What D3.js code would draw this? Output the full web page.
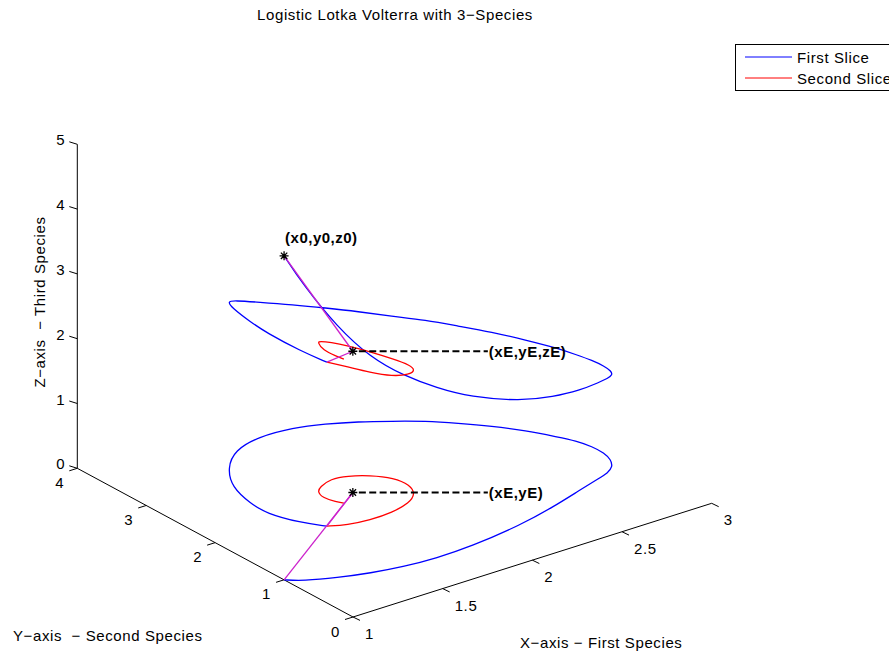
<!DOCTYPE html>
<html>
<head>
<meta charset="utf-8">
<script src="https://cdn.jsdelivr.net/npm/d3@7"></script>
<style>
body { margin: 0; background: #fff; }
text { font-family: "Liberation Sans", Arial, Helvetica, sans-serif; font-size: 15px; letter-spacing: 0.6px; white-space: pre; fill: #000; }
.bold { font-weight: bold; letter-spacing: 0.5px; }
</style>
</head>
<body>
<svg id="chart" width="889" height="653"></svg>
<script>
// trajectory, first slice (blue)
var slice1X = [1.00,1.06,1.20,1.35,1.50,1.68,1.87,2.19,2.42,2.62,2.77,2.83,2.89,2.93,2.95,2.95,2.93,2.89,2.82,2.73,2.63,2.53,2.41,2.29,2.16,2.02,1.84,1.67,1.53,1.42,1.38,1.37,1.43,1.50];
var slice1Y = [1.00,0.88,0.75,0.65,0.58,0.55,0.56,0.66,0.79,0.93,1.03,1.07,1.15,1.28,1.43,1.60,1.79,1.95,2.23,2.49,2.72,2.93,3.11,3.28,3.42,3.53,3.56,3.46,3.20,2.85,2.48,2.22,1.88,1.68];
var slice1Z = [5.00,4.57,3.87,3.32,2.96,2.62,2.31,1.91,1.70,1.54,1.48,1.46,1.42,1.37,1.34,1.33,1.33,1.37,1.40,1.45,1.50,1.56,1.62,1.70,1.79,1.90,2.08,2.31,2.57,2.77,2.80,2.79,2.65,2.53];

// second slice (red)
var slice2X = [1.50,1.58,1.69,1.82,1.94,2.02,2.06,2.05,1.98,1.90,1.82,1.73,1.69,1.67,1.69,1.71];
var slice2Y = [1.68,1.59,1.55,1.56,1.63,1.75,1.93,2.14,2.31,2.42,2.46,2.38,2.31,2.18,2.04,1.98];
var slice2Z = [2.53,2.44,2.28,2.10,1.98,1.91,1.85,1.83,1.91,2.01,2.11,2.25,2.31,2.28,2.25,2.22];

var startPt = [1, 1, 5];          // (x0,y0,z0)
var equilPt = [1.81, 2.11, 2.18]; // (xE,yE,zE)

var xTicks = [1, 1.5, 2, 2.5, 3];
var yTicks = [0, 1, 2, 3, 4];
var zTicks = [0, 1, 2, 3, 4, 5];

var legendNames = ["First Slice", "Second Slice"];
var sliceColors = ["#0000ff", "#ff0000"];

var svg = d3.select("#chart");

// oblique 3d view: fraction along each axis -> screen vectors
var fx = d3.scaleLinear().domain([1, 3]).range([0, 1]);
var fy = d3.scaleLinear().domain([0, 4]).range([0, 1]);
var fz = d3.scaleLinear().domain([0, 5]).range([0, 324]);
var origin = [353, 617];
var ex = [358.7, -113.7];
var ey = [-275.7, -148.7];

function proj(x, y, z) {
	return [origin[0] + fx(x) * ex[0] + fy(y) * ey[0],
	        origin[1] + fx(x) * ex[1] + fy(y) * ey[1] - fz(z)];
}

// axes
var axisG = svg.append("g").attr("stroke", "#000").attr("stroke-width", 1).attr("fill", "none");
var xa = proj(1, 0, 0), xb = proj(3, 0, 0);
axisG.append("line").attr("x1", xa[0]).attr("y1", xa[1]).attr("x2", xb[0]).attr("y2", xb[1]);
var ya = proj(1, 0, 0), yb = proj(1, 4, 0);
axisG.append("line").attr("x1", ya[0]).attr("y1", ya[1]).attr("x2", yb[0]).attr("y2", yb[1]);
var za = proj(1, 4, 0), zb = proj(1, 4, 5);
axisG.append("line").attr("x1", za[0]).attr("y1", za[1]).attr("x2", zb[0]).attr("y2", zb[1]);

xTicks.forEach(function(t) {
	var p = proj(t, 0, 0);
	axisG.append("line").attr("x1", p[0]).attr("y1", p[1]).attr("x2", p[0] + 7).attr("y2", p[1] + 3.4);
	svg.append("text").attr("x", p[0] + 12).attr("y", p[1] + 22).text(t);
});
yTicks.forEach(function(t) {
	var p = proj(1, t, 0);
	axisG.append("line").attr("x1", p[0]).attr("y1", p[1]).attr("x2", p[0] - 8).attr("y2", p[1] + 2.5);
	svg.append("text").attr("x", p[0] - 13).attr("y", p[1] + 19.5).attr("text-anchor", "end").text(t);
});
zTicks.forEach(function(t) {
	var p = proj(1, 4, t);
	axisG.append("line").attr("x1", p[0]).attr("y1", p[1]).attr("x2", p[0] - 8).attr("y2", p[1] - 2.5);
	svg.append("text").attr("x", p[0] - 12).attr("y", p[1] + 1).attr("text-anchor", "end").text(t);
});

// axis titles
svg.append("text").attr("x", 395).attr("y", 20).attr("text-anchor", "middle").text("Logistic Lotka Volterra with 3\u2212Species");
svg.append("text").attr("x", 520).attr("y", 648).text("X\u2212axis \u2212 First Species");
svg.append("text").attr("x", 13).attr("y", 641).text("Y\u2212axis  \u2212 Second Species");
svg.append("text").attr("transform", "translate(45,302) rotate(-90)").attr("text-anchor", "middle").text("Z\u2212axis  \u2212 Third Species");

// curves (b-spline through the read points to iron out reading noise)
var line = d3.line().curve(d3.curveBasis);
function pts(xs, ys, zs, flat) {
	return xs.map(function(v, i) { return proj(v, ys[i], flat ? 0 : zs[i]); });
}
var slices = [[slice1X, slice1Y, slice1Z], [slice2X, slice2Y, slice2Z]];
slices.forEach(function(s, k) {
	[true, false].forEach(function(flat) {
		svg.append("path")
			.attr("d", line(pts(s[0], s[1], s[2], flat)))
			.attr("fill", "none")
			.attr("stroke", sliceColors[k])
			.attr("stroke-width", 1.3);
	});
});

// lines from each slice start to the equilibrium
var sliceStarts = [startPt, [slice2X[0], slice2Y[0], slice2Z[0]]];
sliceStarts.forEach(function(s) {
	[true, false].forEach(function(flat) {
		var a = proj(s[0], s[1], flat ? 0 : s[2]);
		var b = proj(equilPt[0], equilPt[1], flat ? 0 : equilPt[2]);
		svg.append("line").attr("x1", a[0]).attr("y1", a[1]).attr("x2", b[0]).attr("y2", b[1])
			.attr("stroke", "#cc22cc").attr("stroke-width", 1.3);
	});
});

// star markers
function star(p) {
	var r = 4.5, d = 3.2;
	var path = "M" + (p[0] - r) + "," + p[1] + "h" + (2 * r) +
		"M" + p[0] + "," + (p[1] - r) + "v" + (2 * r) +
		"M" + (p[0] - d) + "," + (p[1] - d) + "l" + (2 * d) + "," + (2 * d) +
		"M" + (p[0] - d) + "," + (p[1] + d) + "l" + (2 * d) + "," + (-2 * d);
	svg.append("path").attr("d", path).attr("stroke", "#000").attr("stroke-width", 1.3);
}
var s0 = proj(startPt[0], startPt[1], startPt[2]);
var e3 = proj(equilPt[0], equilPt[1], equilPt[2]);
var e2 = proj(equilPt[0], equilPt[1], 0);
star(s0); star(e3); star(e2);

svg.append("text").attr("class", "bold").attr("x", s0[0] + 1).attr("y", s0[1] - 13).text("(x0,y0,z0)");
[[e3, "(xE,yE,zE)"], [e2, "(xE,yE)"]].forEach(function(d) {
	var p = d[0];
	svg.append("line").attr("x1", p[0] + 6).attr("y1", p[1]).attr("x2", p[0] + 135).attr("y2", p[1])
		.attr("stroke", "#000").attr("stroke-width", 1.8).attr("stroke-dasharray", "7,3.4");
	svg.append("text").attr("class", "bold").attr("x", p[0] + 136).attr("y", p[1] + 5.5).text(d[1]);
});

// legend (runs off the right edge like the original)
var lg = svg.append("g");
lg.append("rect").attr("x", 735.5).attr("y", 44.5).attr("width", 200).attr("height", 46)
	.attr("fill", "#fff").attr("stroke", "#000").attr("stroke-width", 1);
legendNames.forEach(function(n, i) {
	var y = 57 + i * 21;
	lg.append("line").attr("x1", 745).attr("x2", 792).attr("y1", y).attr("y2", y)
		.attr("stroke", sliceColors[i]).attr("stroke-width", 1);
	lg.append("text").attr("x", 797).attr("y", y + 5.5).text(n);
});
</script>
</body>
</html>
